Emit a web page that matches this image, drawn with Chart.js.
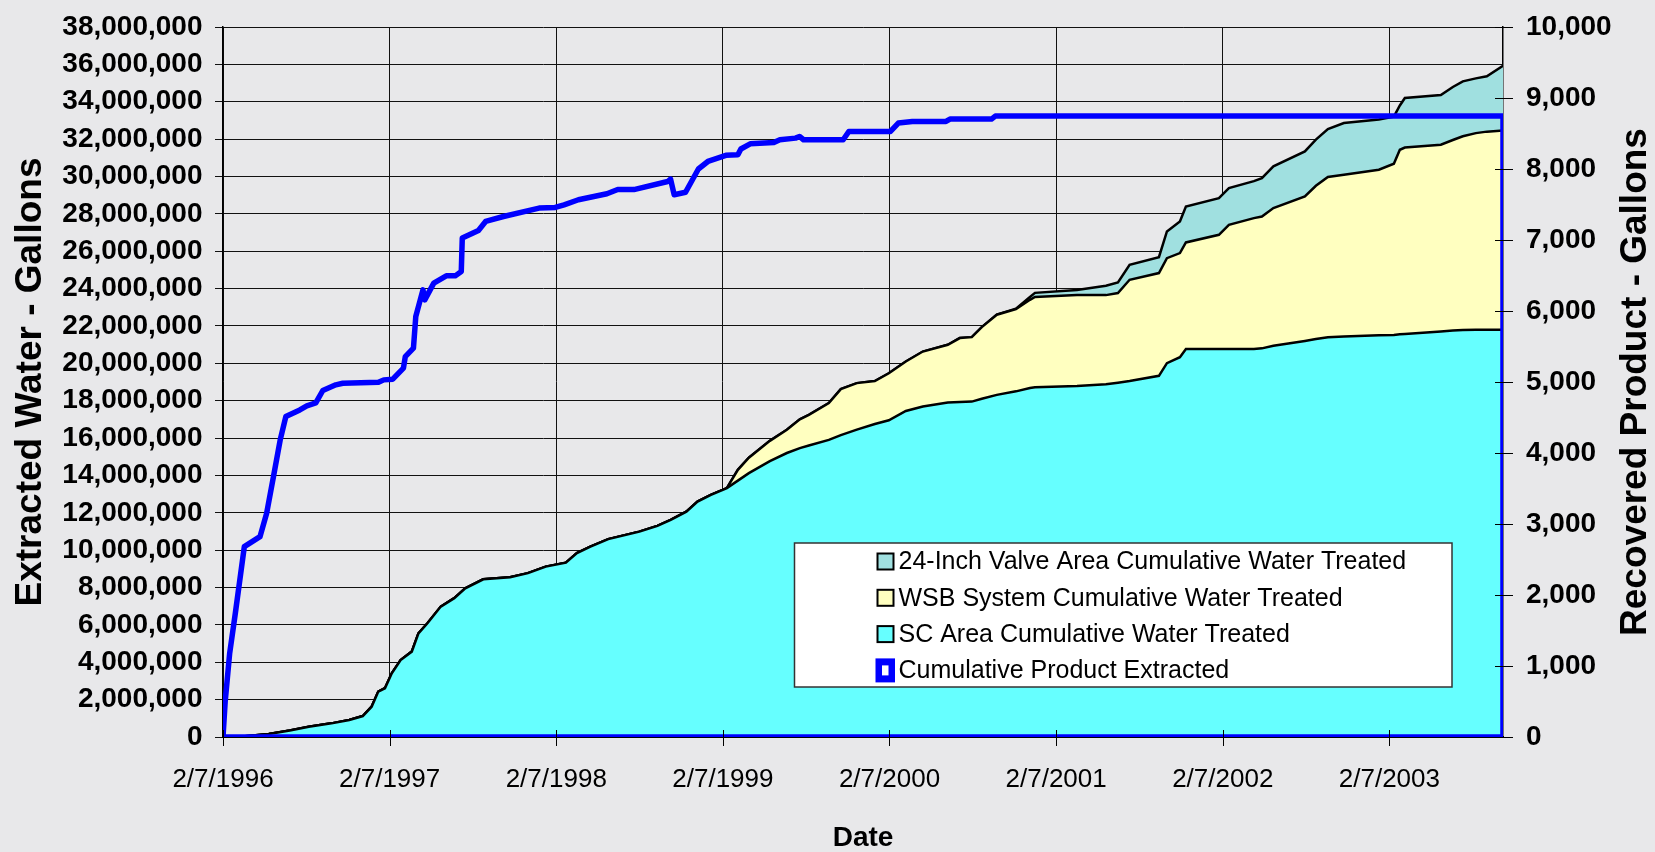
<!DOCTYPE html>
<html>
<head>
<meta charset="utf-8">
<title>Cumulative Water Treated and Product Extracted</title>
<script src="https://cdn.jsdelivr.net/npm/chart.js@4.4.1/dist/chart.umd.min.js"></script>
<style>
  html, body { margin: 0; padding: 0; background: #e8e8ea; }
  #wrap { position: relative; width: 1655px; height: 852px; }
</style>
</head>
<body>
<div id="wrap"><canvas id="chart"></canvas></div>
<script>
// x values are years since 2/7/1996
const waterYears = [0, 0.101, 0.275, 0.401, 0.515, 0.651, 0.758, 0.839, 0.892, 0.932, 0.972, 1.013, 1.066, 1.133, 1.173, 1.227,
  1.307, 1.388, 1.454, 1.562, 1.723, 1.830, 1.937, 2.058, 2.124, 2.205, 2.312, 2.499, 2.607, 2.687, 2.781, 2.848, 2.928, 3.024,
  3.090, 3.156, 3.282, 3.384, 3.462, 3.516, 3.636, 3.708, 3.804, 3.912, 3.996, 4.098, 4.200, 4.350, 4.422, 4.494, 4.554, 4.644,
  4.759, 4.843, 4.873, 5.125, 5.299, 5.371, 5.441, 5.617, 5.665, 5.743, 5.779, 5.977, 6.037, 6.187, 6.235, 6.304, 6.493, 6.559,
  6.631, 6.727, 6.937, 7.027, 7.063, 7.093, 7.309, 7.381, 7.441, 7.519, 7.585, 7.682];

// gallons, stacked: SC at the bottom, then WSB, then the 24-inch valve area
const scGallons = [0, 20000, 160000, 350000, 550000, 730000, 910000, 1120000, 1620000, 2430000, 2610000, 3410000, 4120000,
  4570000, 5550000, 6090000, 6980000, 7430000, 7960000, 8440000, 8550000, 8770000, 9120000, 9330000, 9840000, 10190000,
  10590000, 10990000, 11300000, 11620000, 12060000, 12600000, 12960000, 13320000, 13720000, 14120000, 14760000, 15200000,
  15460000, 15600000, 15900000, 16160000, 16450000, 16750000, 16950000, 17450000, 17690000, 17900000, 17930000, 17950000,
  18100000, 18310000, 18500000, 18680000, 18720000, 18790000, 18880000, 18960000, 19050000, 19330000, 20010000, 20330000,
  20760000, 20760000, 20760000, 20760000, 20800000, 20940000, 21200000, 21300000, 21400000, 21430000, 21500000, 21520000,
  21550000, 21570000, 21700000, 21750000, 21780000, 21790000, 21790000, 21800000];

const wsbGallons = [0, 0, 0, 0, 0, 0, 0, 0, 0, 0, 0, 0, 0, 0, 0, 0, 0, 0, 0, 0, 0, 0, 0, 0, 0, 0, 0, 0, 0, 0, 0, 0, 0, 0,
  580000, 830000, 1090000, 1240000, 1540000, 1640000, 1970000, 2460000, 2490000, 2300000, 2520000, 2650000, 2940000,
  3090000, 3420000, 3450000, 3840000, 4290000, 4400000, 4720000, 4830000, 4870000, 4770000, 4800000, 5420000, 5500000,
  5620000, 5570000, 5710000, 6120000, 6650000, 7010000, 7060000, 7370000, 7730000, 8200000, 8570000, 8660000, 8860000,
  9160000, 9880000, 9980000, 10000000, 10200000, 10370000, 10530000, 10610000, 10660000];

const valveGallons = [0, 0, 0, 0, 0, 0, 0, 0, 0, 0, 0, 0, 0, 0, 0, 0, 0, 0, 0, 0, 0, 0, 0, 0, 0, 0, 0, 0, 0, 0, 0, 0, 0, 0,
  0, 0, 0, 0, 0, 0, 0, 0, 0, 0, 0, 0, 0, 0, 0, 0, 0, 0,
  20000, 150000, 220000, 260000, 500000, 570000, 800000, 850000, 1430000, 1690000, 1920000, 1960000, 1970000, 1980000,
  2050000, 2230000, 2410000, 2470000, 2570000, 2770000, 2690000, 2520000, 2370000, 2650000, 2660000, 2840000, 2940000,
  2930000, 2960000, 3470000];

// recovered product (right axis); the series closes back along the axes like the original
const productYears = [0, 0.013, 0.040, 0.074, 0.128, 0.222, 0.262, 0.303, 0.343, 0.377, 0.461, 0.503, 0.557, 0.599, 0.677,
  0.719, 0.933, 0.965, 1.019, 1.083, 1.094, 1.143, 1.157, 1.200, 1.211, 1.265, 1.340, 1.394, 1.430, 1.436, 1.533, 1.576, 1.683,
  1.897, 1.994, 2.047, 2.133, 2.304, 2.369, 2.466, 2.669, 2.686, 2.708, 2.776, 2.853, 2.910, 3.018, 3.090, 3.108, 3.164, 3.306,
  3.342, 3.436, 3.460, 3.484, 3.722, 3.756, 4.006, 4.053, 4.137, 4.339, 4.363, 4.612, 4.635, 7.682, 7.682, 0];
const productGallons = [0, 497, 1179, 1743, 2681, 2822, 3152, 3668, 4180, 4513, 4607, 4664, 4705, 4880, 4960, 4983, 4995,
  5030, 5040, 5195, 5358, 5477, 5922, 6298, 6157, 6392, 6495, 6495, 6556, 7027, 7134, 7261, 7331, 7449, 7458, 7496, 7567,
  7651, 7712, 7710, 7824, 7858, 7637, 7672, 8000, 8106, 8193, 8200, 8282, 8355, 8374, 8412, 8435, 8458, 8412, 8412, 8529,
  8529, 8647, 8670, 8670, 8703, 8703, 8745, 8745, 0, 0];

const seriesLabels = [
  'SC Area Cumulative Water Treated',
  'WSB System Cumulative Water Treated',
  '24-Inch Valve Area Cumulative Water Treated',
  'Cumulative Product Extracted'
];
const seriesColors = ['#66ffff', '#ffffc0', '#a0e0e0', '#0000ff'];

const xMax = 7.682;
const FONT = "'Liberation Sans', Arial, Helvetica, sans-serif";
Chart.defaults.font.family = FONT;
Chart.defaults.color = '#000';

function pts(xs, ys) {
  return xs.map((x, i) => ({ x: x, y: ys[i] }));
}

function areaSet(i, values, fill) {
  return {
    label: seriesLabels[i],
    data: pts(waterYears, values),
    yAxisID: 'y',
    backgroundColor: seriesColors[i],
    borderColor: '#000',
    borderWidth: 2.5,
    pointRadius: 0,
    tension: 0,
    fill: fill
  };
}

// background, crossing tick marks, right-hand title and the boxed legend
const decor = {
  id: 'decor',
  beforeDraw(chart) {
    const { ctx, width, height } = chart;
    ctx.save();
    ctx.fillStyle = '#e8e8ea';
    ctx.fillRect(0, 0, width, height);
    ctx.restore();
  },
  afterDraw(chart) {
    const { ctx, chartArea: a, scales } = chart;
    ctx.save();

    ctx.strokeStyle = '#000';
    ctx.lineWidth = 1;
    ctx.beginPath();
    scales.x.ticks.forEach(t => {
      const px = Math.round(scales.x.getPixelForValue(t.value)) + 0.5;
      ctx.moveTo(px, a.bottom - 7);
      ctx.lineTo(px, a.bottom + 9);
    });
    scales.y2.ticks.forEach(t => {
      const py = Math.round(scales.y2.getPixelForValue(t.value)) + 0.5;
      ctx.moveTo(a.right - 8, py);
      ctx.lineTo(a.right + 10, py);
    });
    ctx.stroke();

    // right axis title reads bottom to top, like the left one
    ctx.save();
    ctx.translate(1636, (a.top + a.bottom) / 2);
    ctx.rotate(-Math.PI / 2);
    ctx.font = 'bold 37px ' + FONT;
    ctx.fillStyle = '#000';
    ctx.textAlign = 'center';
    ctx.textBaseline = 'middle';
    ctx.fillText('Recovered Product - Gallons', 0, 0);
    ctx.restore();

    // legend box
    const bx = a.left + 571.5, by = a.top + 516, bw = 657.5, bh = 144;
    ctx.fillStyle = '#fff';
    ctx.fillRect(bx, by, bw, bh);
    ctx.strokeStyle = '#333';
    ctx.lineWidth = 1.5;
    ctx.strokeRect(bx, by, bw, bh);

    const order = [2, 1, 0, 3];
    ctx.font = '25px ' + FONT;
    ctx.textAlign = 'left';
    ctx.textBaseline = 'middle';
    order.forEach((k, row) => {
      const cy = by + 18.5 + row * 36.3;
      if (k === 3) {
        ctx.fillStyle = seriesColors[3];
        ctx.fillRect(bx + 81, cy - 12, 19.5, 24);
        ctx.fillStyle = '#fff';
        ctx.fillRect(bx + 87.5, cy - 5, 6.5, 10);
      } else {
        ctx.fillStyle = seriesColors[k];
        ctx.fillRect(bx + 83, cy - 8, 16, 16);
        ctx.strokeStyle = '#000';
        ctx.lineWidth = 2;
        ctx.strokeRect(bx + 83, cy - 8, 16, 16);
      }
      ctx.fillStyle = '#000';
      ctx.fillText(seriesLabels[k], bx + 104, cy + 1);
    });

    ctx.restore();
  }
};

new Chart(document.getElementById('chart'), {
  type: 'line',
  data: {
    datasets: [
      areaSet(0, scGallons, 'origin'),
      areaSet(1, wsbGallons, '-1'),
      areaSet(2, valveGallons, '-1'),
      {
        label: seriesLabels[3],
        data: pts(productYears, productGallons),
        yAxisID: 'y2',
        borderColor: seriesColors[3],
        borderWidth: 5.5,
        borderJoinStyle: 'round',
        pointRadius: 0,
        tension: 0,
        fill: false,
        clip: 0,
        order: -1
      }
    ]
  },
  options: {
    responsive: true,
    maintainAspectRatio: false,
    animation: false,
    layout: { padding: { top: 27, left: 0, right: 0, bottom: 0 } },
    plugins: { legend: { display: false }, tooltip: { enabled: false } },
    scales: {
      x: {
        type: 'linear',
        min: 0,
        max: xMax,
        afterFit: s => { s.height = 115; },
        ticks: {
          stepSize: 1,
          includeBounds: false,
          autoSkip: false,
          maxRotation: 0,
          padding: 27,
          font: { size: 26 },
          callback: v => '2/7/' + (1996 + v)
        },
        grid: { color: '#111', lineWidth: 1, drawTicks: false },
        border: { color: '#000', width: 2 },
        title: {
          display: true,
          text: 'Date',
          font: { size: 28, weight: 'bold', lineHeight: 1 },
          padding: { top: 0, bottom: 0 }
        }
      },
      y: {
        stacked: true,
        min: 0,
        max: 38000000,
        afterFit: s => { s.width = 223; },
        ticks: {
          stepSize: 2000000,
          autoSkip: false,
          padding: 12.5,
          font: { size: 28, weight: 'bold', lineHeight: 1 },
          callback: v => v.toLocaleString('en-US')
        },
        grid: { color: '#111', lineWidth: 1, tickLength: 8 },
        border: { color: '#000', width: 1.5 },
        title: {
          display: true,
          text: 'Extracted Water - Gallons',
          font: { size: 37, weight: 'bold', lineHeight: 1.2 },
          padding: { top: 9, bottom: 0 }
        }
      },
      y2: {
        position: 'right',
        min: 0,
        max: 10000,
        afterFit: s => { s.width = 152; },
        ticks: {
          stepSize: 1000,
          autoSkip: false,
          padding: 0,
          font: { size: 28, weight: 'bold', lineHeight: 1 },
          callback: v => v.toLocaleString('en-US')
        },
        // ticks are drawn by the decor plugin; tickLength only sets the label offset
        grid: { display: false, drawTicks: true, tickLength: 23 },
        border: { display: true, color: '#000', width: 1.5 }
      }
    }
  },
  plugins: [decor]
});
</script>
</body>
</html>
